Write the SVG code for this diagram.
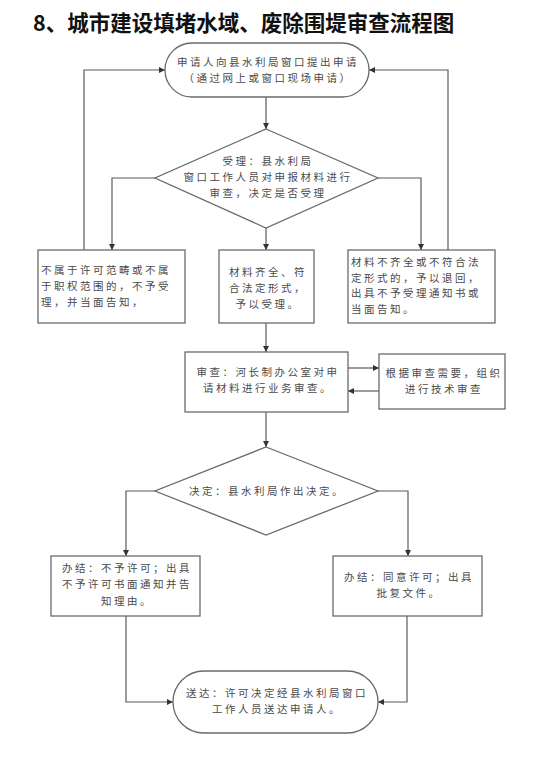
<svg xmlns="http://www.w3.org/2000/svg" width="554" height="772" viewBox="0 0 554 772">
<style>
.bg{fill:#ffffff}
.shape{fill:#ffffff;stroke:#6a6a6a;stroke-width:1.3}
.t{font-family:"Noto Sans CJK SC","Liberation Sans",sans-serif;font-size:10.5px;letter-spacing:2.5px;fill:#4a4a4a}
.c{text-anchor:middle}
.title{font-family:"Noto Sans CJK SC","Liberation Sans",sans-serif;font-size:21.5px;font-weight:bold;fill:#111111}
.conn{fill:none;stroke:#5a5a5a;stroke-width:1.2}
</style>
<defs>
<marker id="arr" markerWidth="6" markerHeight="6" refX="6" refY="3" orient="auto" markerUnits="userSpaceOnUse">
<path d="M0,0 L6,3 L0,6 z" fill="#333333"/>
</marker>
</defs>
<rect class="bg" x="0" y="0" width="554" height="772"/>
<text class="title" x="33" y="31">8、城市建设填堵水域、废除围堤审查流程图</text>

<g id="connectors">
<path class="conn" d="M266,97 L266,129" marker-end="url(#arr)"/>
<path class="conn" d="M155,178 L112,178 L112,250" marker-end="url(#arr)"/>
<path class="conn" d="M378,178 L421,178 L421,250" marker-end="url(#arr)"/>
<path class="conn" d="M266,228 L266,250" marker-end="url(#arr)"/>
<path class="conn" d="M84,250 L84,70 L165,70" marker-end="url(#arr)"/>
<path class="conn" d="M448,250 L448,70 L369,70" marker-end="url(#arr)"/>
<path class="conn" d="M266,323 L266,352" marker-end="url(#arr)"/>
<path class="conn" d="M348,368 L379,368" marker-end="url(#arr)"/>
<path class="conn" d="M379,391 L348,391" marker-end="url(#arr)"/>
<path class="conn" d="M266,412 L266,447" marker-end="url(#arr)"/>
<path class="conn" d="M155,491 L126,491 L126,556" marker-end="url(#arr)"/>
<path class="conn" d="M378,491 L408,491 L408,556" marker-end="url(#arr)"/>
<path class="conn" d="M126,616 L126,702 L173,702" marker-end="url(#arr)"/>
<path class="conn" d="M407,616 L407,702 L378,702" marker-end="url(#arr)"/>
</g>

<g id="start">
<rect class="shape" x="165" y="43" width="204" height="54" rx="27" ry="27"/>
<text class="t c" x="268" y="66">申请人向县水利局窗口提出申请</text>
<text class="t c" x="268" y="82">（通过网上或窗口现场申请）</text>
</g>

<g id="accept">
<polygon class="shape" points="266,129 378,178 266,228 155,178"/>
<text class="t c" x="268" y="165">受理：县水利局</text>
<text class="t c" x="268" y="181">窗口工作人员对申报材料进行</text>
<text class="t c" x="268" y="197">审查，决定是否受理</text>
</g>

<g id="reject">
<rect class="shape" x="38" y="250" width="147" height="73"/>
<text class="t" x="41" y="274">不属于许可范畴或不属</text>
<text class="t" x="41" y="290">于职权范围的，不予受</text>
<text class="t" x="41" y="306">理，并当面告知，</text>
</g>

<g id="complete">
<rect class="shape" x="219" y="250" width="95" height="73"/>
<text class="t c" x="268" y="276">材料齐全、符</text>
<text class="t c" x="268" y="292">合法定形式，</text>
<text class="t c" x="268" y="308">予以受理。</text>
</g>

<g id="incomplete">
<rect class="shape" x="348" y="250" width="147" height="73"/>
<text class="t" x="351" y="266">材料不齐全或不符合法</text>
<text class="t" x="351" y="281.5">定形式的，予以退回，</text>
<text class="t" x="351" y="297">出具不予受理通知书或</text>
<text class="t" x="351" y="312.5">当面告知。</text>
</g>

<g id="review">
<rect class="shape" x="185" y="352" width="163" height="60"/>
<text class="t c" x="268" y="376">审查：河长制办公室对申</text>
<text class="t c" x="268" y="392">请材料进行业务审查。</text>
</g>

<g id="tech">
<rect class="shape" x="379" y="354" width="126" height="55"/>
<text class="t c" x="444" y="377">根据审查需要，组织</text>
<text class="t c" x="444" y="392.5">进行技术审查</text>
</g>

<g id="decide">
<polygon class="shape" points="266,447 378,491 266,535 155,491"/>
<text class="t c" x="267" y="495">决定：县水利局作出决定。</text>
</g>

<g id="deny">
<rect class="shape" x="51" y="556" width="149" height="60"/>
<text class="t c" x="127" y="572">办结：不予许可；出具</text>
<text class="t c" x="127" y="588">不予许可书面通知并告</text>
<text class="t c" x="127" y="604.5">知理由。</text>
</g>

<g id="approve">
<rect class="shape" x="333" y="556" width="149" height="60"/>
<text class="t c" x="409" y="581">办结：同意许可；出具</text>
<text class="t c" x="409" y="597">批复文件。</text>
</g>

<g id="deliver">
<rect class="shape" x="173" y="671" width="205" height="62" rx="31" ry="31"/>
<text class="t c" x="277" y="697">送达：许可决定经县水利局窗口</text>
<text class="t c" x="277" y="713">工作人员送达申请人。</text>
</g>
</svg>
